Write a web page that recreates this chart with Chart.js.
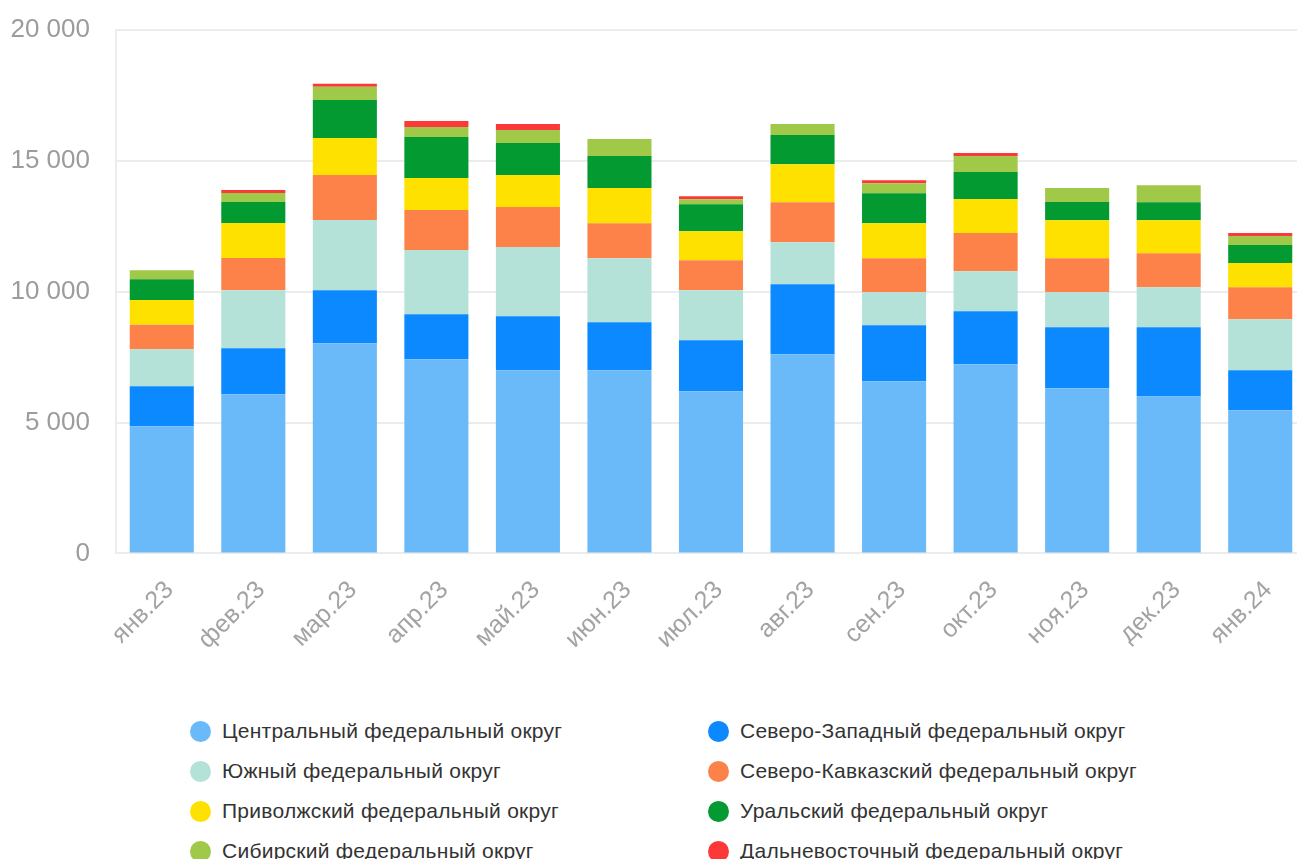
<!DOCTYPE html>
<html lang="ru">
<head>
<meta charset="utf-8">
<script src="https://cdn.jsdelivr.net/npm/chart.js@4.4.1/dist/chart.umd.min.js"></script>
<style>
  body { margin: 0; width: 1297px; height: 859px; overflow: hidden; background: #fff; font-family: 'Liberation Sans', Arial, sans-serif; }
  #chart-wrap { position: absolute; left: 0; top: 0; width: 1306px; height: 669px; }
  #legend { position: absolute; left: 190px; top: 711px; display: grid; grid-template-columns: 518px 518px; grid-auto-rows: 40px; }
  .item { display: flex; align-items: center; font-size: 21px; letter-spacing: 0.25px; color: #333; white-space: nowrap; }
  .dot { width: 21px; height: 21px; border-radius: 50%; margin-right: 11px; flex: none; }
</style>
</head>
<body>
<div id="chart-wrap"><canvas id="chart"></canvas></div>
<div id="legend"></div>
<script>
const categories = ['янв.23', 'фев.23', 'мар.23', 'апр.23', 'май.23', 'июн.23', 'июл.23', 'авг.23', 'сен.23', 'окт.23', 'ноя.23', 'дек.23', 'янв.24']

const central = [4860, 6080, 8030, 7420, 7000, 7000, 6195, 7610, 6580, 7230, 6310, 6000, 5470]
const northWest = [1530, 1760, 2030, 1720, 2065, 1835, 1950, 2675, 2140, 2025, 2330, 2640, 1530]
const south = [1415, 2220, 2680, 2450, 2640, 2445, 1910, 1605, 1260, 1530, 1340, 1530, 1950]
const northCaucasus = [930, 1225, 1720, 1530, 1530, 1340, 1150, 1530, 1300, 1455, 1300, 1300, 1225]
const volga = [945, 1340, 1415, 1225, 1225, 1340, 1110, 1455, 1340, 1300, 1455, 1260, 920]
const ural = [800, 800, 1455, 1570, 1225, 1225, 1030, 1110, 1145, 1035, 690, 690, 690]
const siberia = [345, 345, 500, 380, 495, 650, 190, 420, 380, 610, 535, 650, 345]
const farEast = [0, 115, 115, 230, 230, 0, 115, 0, 115, 115, 0, 0, 115]

const yTicks = [0, 5000, 10000, 15000, 20000]

const series = [
  { label: 'Центральный федеральный округ', data: central, color: '#6abafa' },
  { label: 'Северо-Западный федеральный округ', data: northWest, color: '#0c89fe' },
  { label: 'Южный федеральный округ', data: south, color: '#b4e2d8' },
  { label: 'Северо-Кавказский федеральный округ', data: northCaucasus, color: '#fc8249' },
  { label: 'Приволжский федеральный округ', data: volga, color: '#ffe100' },
  { label: 'Уральский федеральный округ', data: ural, color: '#039a31' },
  { label: 'Сибирский федеральный округ', data: siberia, color: '#a0c94a' },
  { label: 'Дальневосточный федеральный округ', data: farEast, color: '#fd3838' },
]

const formatThousands = (v) => String(v).replace(/\B(?=(\d{3})+(?!\d))/g, ' ')

const fontFamily = "'Liberation Sans', Arial, sans-serif"
const gridColor = '#ececec'

const ctx = document.getElementById('chart')

const chart = new Chart(ctx, {
  type: 'bar',
  data: {
    labels: categories,
    datasets: series.map(s => ({
      label: s.label,
      data: s.data,
      backgroundColor: s.color,
      borderWidth: 0,
      categoryPercentage: 1,
      barPercentage: 0.7,
    }))
  },
  options: {
    responsive: true,
    maintainAspectRatio: false,
    animation: false,
    layout: { padding: { top: 30, right: 0, bottom: 0, left: 0 } },
    plugins: {
      legend: { display: false },
      tooltip: { enabled: false }
    },
    scales: {
      x: {
        stacked: true,
        grid: { display: false },
        border: { display: false },
        ticks: {
          color: '#a3a3a3',
          font: { family: fontFamily, size: 25 },
          minRotation: 45,
          maxRotation: 45,
          labelOffset: 8,
          padding: 14
        }
      },
      y: {
        stacked: true,
        min: 0,
        max: 20000,
        afterBuildTicks: (scale) => {
          scale.ticks = yTicks.map(value => ({ value }))
        },
        afterFit: (scale) => {
          scale.width = 116
        },
        // invisible tick marks keep the labels away from the axis line
        grid: { color: gridColor, lineWidth: 2, drawTicks: true, tickLength: 26, tickColor: 'rgba(0,0,0,0)' },
        border: { display: true, color: gridColor, width: 2 },
        ticks: {
          color: '#9c9c9c',
          font: { family: fontFamily, size: 26 },
          padding: 0,
          callback: (v) => formatThousands(v)
        }
      }
    }
  }
});

// legend in two columns under the chart
const legend = document.getElementById('legend')
series.forEach(s => {
  const item = document.createElement('div')
  item.className = 'item'
  const dot = document.createElement('span')
  dot.className = 'dot'
  dot.style.background = s.color
  const text = document.createElement('span')
  text.textContent = s.label
  item.appendChild(dot)
  item.appendChild(text)
  legend.appendChild(item)
})
</script>
</body>
</html>
